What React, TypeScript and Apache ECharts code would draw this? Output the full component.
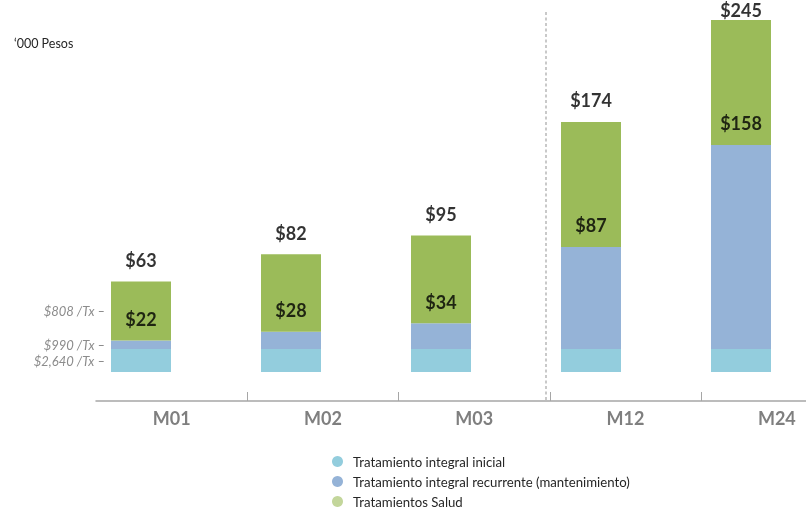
import React, { useEffect, useRef } from "react";
import * as echarts from "echarts";

const categories = ["M01", "M02", "M03", "M12", "M24"];
const inicial = [16, 16, 16, 16, 16];
const recurrente = [6, 12, 18, 71, 142];
const salud = [41, 54, 61, 87, 87];
const perTxLabels = ["$2,640 /Tx \u2013", "$990 /Tx \u2013", "$808 /Tx \u2013"];
const seriesNames = [
  "Tratamiento integral inicial",
  "Tratamiento integral recurrente (mantenimiento)",
  "Tratamientos Salud",
];

const FONT = "Lato";
const colors = ["#93CDDD", "#95B3D7", "#9BBB59"];
const legendColors = ["#93CDDD", "#95B3D7", "#C3D69B"];

export default function App() {
  const ref = useRef<HTMLDivElement>(null);
  useEffect(() => {
    if (!ref.current) return;
    const chart = echarts.init(ref.current, undefined, { renderer: "svg" });
    const cumul = inicial.map((v, i) => v + recurrente[i]);
    const totals = cumul.map((v, i) => v + salud[i]);
    const bandPx = 151.3;
    const axisLeft = 96;
    const axisWidth = 806 - axisLeft;
    const sideLabel = (text: string) => ({
      show: true,
      position: "left",
      distance: 6,
      formatter: text,
      color: "#8c8c8c",
      fontStyle: "italic",
      fontSize: 13,
      fontFamily: FONT,
    });
    const mkBar = (idx: number, arr: number[]) => ({
      name: seriesNames[idx],
      type: "bar",
      stack: "s",
      xAxisIndex: 0,
      yAxisIndex: 0,
      barWidth: 60,
      itemStyle: { color: colors[idx] },
      data: arr.map((v, i) =>
        i === 0 ? { value: v, label: sideLabel(perTxLabels[idx]) } : v
      ),
    });
    const valLabel = {
      show: true,
      position: "top",
      distance: 12,
      color: "#000",
      fontWeight: "bold",
      fontSize: 18,
      fontFamily: FONT,
      formatter: (p: any) => "$" + p.value,
    };
    chart.setOption({
      animation: false,
      textStyle: { fontFamily: FONT },
      title: {
        text: "\u2018000 Pesos",
        left: 14,
        top: 37,
        padding: 0,
        textStyle: { fontSize: 12.5, fontWeight: "normal", color: "#262626", fontFamily: FONT },
      },
      legend: {
        orient: "vertical",
        left: 332,
        top: 455,
        padding: 0,
        height: 60,
        icon: "circle",
        itemWidth: 11,
        itemHeight: 11,
        itemGap: 7,
        textStyle: {
          fontSize: 13.2,
          color: "#262626",
          fontFamily: FONT,
          padding: [0, 0, 0, 5],
        },
        data: seriesNames.map((n, i) => ({ name: n, itemStyle: { color: legendColors[i] } })),
      },
      grid: [
        { left: 141, width: 600, top: 12.8, height: 359.2 },
        { left: axisLeft, width: axisWidth, top: 380, height: 21 },
      ],
      xAxis: [
        {
          type: "category",
          gridIndex: 0,
          data: categories,
          boundaryGap: false,
          show: false,
        },
        {
          type: "value",
          gridIndex: 1,
          min: 0,
          max: axisWidth / bandPx,
          splitLine: { show: false },
          axisLine: { show: true, lineStyle: { color: "#a6a6a6", width: 1.5 } },
          axisTick: {
            show: true,
            inside: true,
            length: 9,
            lineStyle: { color: "#a6a6a6" },
            customValues: categories.slice(1).map((_, i) => i + 1),
          },
          axisLabel: {
            color: "#7f7f7f",
            fontSize: 18,
            fontWeight: "bold",
            margin: 8,
            fontFamily: FONT,
            customValues: categories.map((_, i) => i + 0.5),
            formatter: (v: number) => categories[Math.floor(v)] ?? "",
          },
        },
      ],
      yAxis: [
        { type: "value", gridIndex: 0, min: 0, max: 250, show: false },
        { type: "value", gridIndex: 1, show: false },
      ],
      graphic: [
        {
          type: "line",
          shape: { x1: 546, y1: 12, x2: 546, y2: 400 },
          style: { stroke: "#a6a6a6", lineWidth: 1.2, lineDash: [3, 2.5] },
          z: 0,
        },
      ],
      series: [
        mkBar(0, inicial),
        mkBar(1, recurrente),
        mkBar(2, salud),
        {
          name: "cumul",
          type: "scatter",
          xAxisIndex: 0,
          yAxisIndex: 0,
          symbolSize: 1,
          itemStyle: { color: "rgba(0,0,0,0)" },
          label: valLabel,
          data: cumul,
          z: 5,
        },
        {
          name: "total",
          type: "scatter",
          xAxisIndex: 0,
          yAxisIndex: 0,
          symbolSize: 1,
          itemStyle: { color: "rgba(0,0,0,0)" },
          label: valLabel,
          data: totals.map((v, i) =>
            i === totals.length - 1 ? { value: v, label: { distance: 0 } } : v
          ),
          z: 5,
        },
      ],
    });
    return () => chart.dispose();
  }, []);
  return (
    <div
      ref={ref}
      style={{ position: "fixed", left: 0, top: 0, width: 806, height: 508 }}
    />
  );
}
